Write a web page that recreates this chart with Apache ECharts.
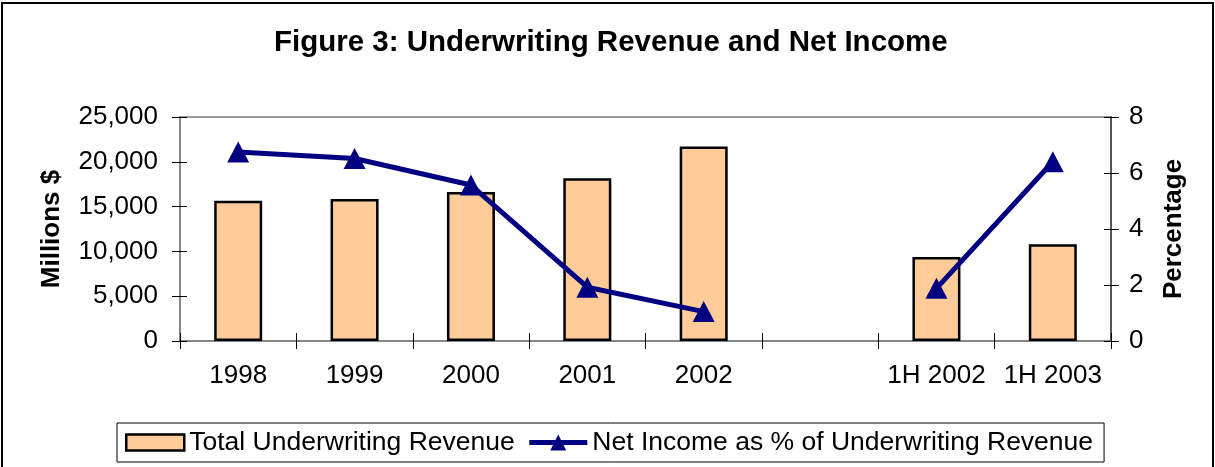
<!DOCTYPE html>
<html>
<head>
<meta charset="utf-8">
<script src="https://cdn.jsdelivr.net/npm/echarts@6/dist/echarts.min.js"></script>
<style>
html,body{margin:0;padding:0;background:#fff;}
#chart{width:1215px;height:467px;}
</style>
</head>
<body>
<div id="chart"></div>
<script>
var categories = ['1998', '1999', '2000', '2001', '2002', '', '1H 2002', '1H 2003'];
var revenue = [15660, 15850, 16630, 18160, 21700, null, 9380, 10790];
var netIncomePct = [6.75, 6.52, 5.57, 1.92, 1.05, null, 1.88, 6.4];
var leftTicks = { min: 0, max: 25000, interval: 5000 };
var rightTicks = { min: 0, max: 8, interval: 2 };

var FONT = 'Liberation Sans, Arial, sans-serif';
var chart = echarts.init(document.getElementById('chart'), null, { renderer: 'canvas' });

function fmt(v) { return String(v).replace(/\B(?=(\d{3})+(?!\d))/g, ','); }

var option = {
  animation: false,
  backgroundColor: '#fff',
  textStyle: { fontFamily: FONT },
  title: {
    text: 'Figure 3: Underwriting Revenue and Net Income',
    left: 269,
    top: 23,
    textStyle: { fontFamily: FONT, fontSize: 29.5, fontWeight: 'bold', color: '#000' }
  },
  graphic: [{
    type: 'rect',
    shape: { x: 2, y: 3, width: 1211, height: 520 },
    style: { fill: 'none', stroke: '#000', lineWidth: 2 },
    silent: true
  }],
  legend: {
    left: 117,
    top: 423,
    padding: [4, 11, 4, 8],
    itemGap: 12,
    itemWidth: 58,
    itemHeight: 20,
    borderColor: '#000',
    borderWidth: 1,
    textStyle: { fontFamily: FONT, fontSize: 26.5, color: '#000', lineHeight: 31 },
    data: [
      { name: 'Total Underwriting Revenue', icon: 'path://M0,0H58V16H0Z',
        itemStyle: { color: '#FFCC99', borderColor: '#000', borderWidth: 2.5 } },
      { name: 'Net Income as % of Underwriting Revenue',
        lineStyle: { color: '#000080', width: 5 } }
    ]
  },
  grid: {
    left: 180, right: 104, top: 117, bottom: 126,
    show: true, borderColor: '#999', borderWidth: 2, backgroundColor: 'transparent'
  },
  xAxis: [{
    type: 'category',
    data: categories,
    boundaryGap: true,
    axisLine: { lineStyle: { color: '#808080', width: 1.5 } },
    axisTick: { show: true, alignWithLabel: false, inside: false, length: 8, lineStyle: { color: '#000', width: 1 } },
    axisLabel: { fontFamily: FONT, fontSize: 26, color: '#000', margin: 22, interval: 0 },
    splitLine: { show: false }
  }, {
    type: 'category',
    data: categories,
    position: 'bottom',
    boundaryGap: true,
    axisLine: { show: false },
    axisTick: { show: true, inside: true, length: 8, lineStyle: { color: '#000', width: 1 } },
    axisLabel: { show: false },
    splitLine: { show: false }
  }],
  yAxis: [{
    type: 'value',
    min: leftTicks.min, max: leftTicks.max, interval: leftTicks.interval,
    position: 'left',
    name: 'Millions $',
    nameLocation: 'middle',
    nameRotate: 90,
    nameGap: 115,
    nameTextStyle: { fontFamily: FONT, fontSize: 26, fontWeight: 'bold', color: '#000' },
    axisLine: { show: true, lineStyle: { color: '#808080', width: 1.5 } },
    axisTick: { show: true, length: 8, lineStyle: { color: '#000', width: 1 } },
    axisLabel: { fontFamily: FONT, fontSize: 26, color: '#000', margin: 22, formatter: fmt },
    splitLine: { show: false }
  }, {
    type: 'value',
    min: rightTicks.min, max: rightTicks.max, interval: rightTicks.interval,
    position: 'right',
    name: 'Percentage',
    nameLocation: 'middle',
    nameRotate: 90,
    nameGap: 50,
    nameTextStyle: { fontFamily: FONT, fontSize: 26, fontWeight: 'bold', color: '#000' },
    axisLine: { show: true, lineStyle: { color: '#404040', width: 1.5 } },
    axisTick: { show: true, length: 8, lineStyle: { color: '#000', width: 1 } },
    axisLabel: { fontFamily: FONT, fontSize: 26, color: '#000', margin: 18 },
    splitLine: { show: false }
  }, {
    type: 'value',
    min: leftTicks.min, max: leftTicks.max, interval: leftTicks.interval,
    position: 'left',
    axisLine: { show: false },
    axisTick: { show: true, inside: true, length: 7, lineStyle: { color: '#000', width: 1 } },
    axisLabel: { show: false },
    splitLine: { show: false }
  }, {
    type: 'value',
    min: rightTicks.min, max: rightTicks.max, interval: rightTicks.interval,
    position: 'right',
    axisLine: { show: false },
    axisTick: { show: true, inside: true, length: 7, lineStyle: { color: '#000', width: 1 } },
    axisLabel: { show: false },
    splitLine: { show: false }
  }],
  series: [{
    name: 'Total Underwriting Revenue',
    type: 'bar',
    xAxisIndex: 0,
    yAxisIndex: 0,
    data: revenue,
    barWidth: 48,
    itemStyle: { color: '#FFCC99', borderColor: '#000', borderWidth: 2.5 },
    z: 2
  }, {
    name: 'Net Income as % of Underwriting Revenue',
    type: 'line',
    xAxisIndex: 0,
    yAxisIndex: 1,
    data: netIncomePct,
    connectNulls: false,
    symbol: 'triangle',
    symbolSize: [22, 21],
    showAllSymbol: true,
    lineStyle: { color: '#000080', width: 5 },
    itemStyle: { color: '#000080' },
    z: 3
  }]
};
chart.setOption(option);
</script>
</body>
</html>
